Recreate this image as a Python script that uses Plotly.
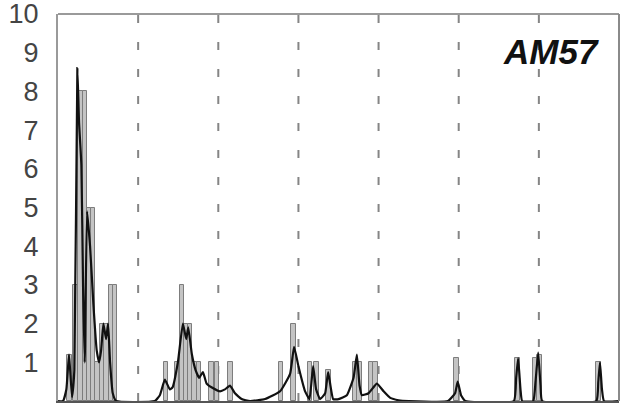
import plotly.graph_objects as go

# ---- data (x in hours, 7 days) ----
bar_x = [3.4, 5.2, 6.7, 8.0, 9.3, 10.5, 11.8, 13.3, 14.5, 15.9, 17.0,
         32.4, 35.6, 37.2, 38.4, 39.6, 40.9, 42.2, 46.0, 47.7, 51.7,
         66.8, 70.5, 75.5, 77.4, 81.0, 88.9, 90.3, 93.7, 95.1,
         119.3, 137.6, 142.9, 144.2, 161.9]
bar_y = [1.2, 3, 8, 8, 5, 5, 1, 2, 2, 3, 3,
         1, 1, 3, 2, 2, 1, 1, 1, 1, 1,
         1, 2, 1, 1, 0.8, 1, 1, 1, 1,
         1.1, 1.1, 1.1, 1.2, 1.0]

line_x = [0, 1.5, 2.5, 3.3, 4.2, 4.9, 5.8, 6.3, 7.0, 7.5, 8.0, 8.7, 9.6, 10.6, 11.6,
          12.3, 12.9, 13.6, 14.4, 15.0, 15.6, 16.4, 17.4,
          29.0, 30.5, 32.0, 33.5, 34.3, 35.9, 37.4, 38.4, 39.0, 40.1, 41.2, 42.3, 43.4,
          44.5, 46.1, 48.5, 50.0, 51.5, 53.0, 55.0, 57.5,
          62.0, 66.5, 69.5, 70.7, 72.0, 74.0, 75.3, 76.4, 77.3, 78.5, 80.0, 80.9, 82.4,
          84.0, 86.5, 88.5, 89.5, 90.3, 91.0, 93.0, 95.5, 97.5, 99.5, 102.0, 105.0,
          116.8, 118.9, 119.7, 120.7, 122.0,
          136.5, 137.2, 137.8, 138.5, 139.0,
          142.3, 143.0, 143.8, 144.5, 145.0,
          161.2, 161.8, 162.3, 162.9, 163.5, 168.0]
line_y = [0, 0, 0.3, 1.2, 0.1, 0.8, 8.6, 7.2, 6.1, 3.0, 1.0, 4.9, 4.0, 2.5, 1.3,
          1.0, 1.3, 2.0, 1.6, 2.0, 1.0, 0.2, 0.0,
          0, 0.15, 0.55, 0.3, 0.35, 1.0, 2.0, 1.6, 1.9, 1.2, 0.8, 0.6, 0.75,
          0.45, 0.35, 0.25, 0.3, 0.4, 0.2, 0.05, 0,
          0.05, 0.25, 0.7, 1.4, 0.9, 0.25, 0.05, 0.9, 0.3, 0.05, 0.2, 0.75, 0.05,
          0.05, 0.15, 0.6, 1.2, 0.4, 0.15, 0.2, 0.45, 0.25, 0.08, 0.02, 0,
          0, 0.2, 0.5, 0.15, 0,
          0, 0.6, 1.1, 0.3, 0,
          0, 0.5, 1.25, 0.4, 0,
          0, 0.5, 1.0, 0.3, 0, 0]

y_ticks = [1, 2, 3, 4, 5, 6, 7, 8, 9, 10]
day_marks = [24, 48, 72, 96, 120, 144]
label = "AM57"

fig = go.Figure()
fig.add_trace(go.Bar(x=bar_x, y=bar_y, width=1.3,
                     marker=dict(color="#c4c4c4", line=dict(color="#7d7d7d", width=1)),
                     showlegend=False))
fig.add_trace(go.Scatter(x=line_x, y=line_y, mode="lines",
                         line=dict(color="#111111", width=2.2, shape="spline", smoothing=0.4),
                         showlegend=False))

shapes = []
for d in day_marks:
    shapes.append(dict(type="line", xref="x", yref="y", x0=d, x1=d, y0=0, y1=10,
                       line=dict(color="#858585", width=2, dash="8px,19px"), layer="below"))
# frame: top and right
shapes.append(dict(type="line", xref="paper", yref="paper", x0=0, x1=1, y0=1, y1=1,
                   line=dict(color="#9a9a9a", width=2)))
shapes.append(dict(type="line", xref="paper", yref="paper", x0=1, x1=1, y0=0, y1=1,
                   line=dict(color="#8a8a8a", width=2)))

fig.update_layout(
    width=629, height=411,
    margin=dict(l=58, r=10, t=14, b=10, autoexpand=False),
    paper_bgcolor="white", plot_bgcolor="white",
    bargap=0,
    shapes=shapes,
    xaxis=dict(range=[0, 168], showticklabels=False, showgrid=False, zeroline=False,
               ticks="", showline=True, linecolor="#555555", linewidth=2, automargin=False),
    yaxis=dict(range=[0, 10], tickvals=y_ticks, ticktext=[str(v) for v in y_ticks],
               showgrid=False, zeroline=False, showline=True, linecolor="#9a9a9a",
               linewidth=2, ticks="", ticklabelstandoff=12, ticklabeloverflow="allow",
               automargin=False,
               tickfont=dict(family="Liberation Sans, Arial", size=27, color="#444444")),
    annotations=[dict(xref="paper", yref="paper", x=0.968, y=0.902,
                      xanchor="right", yanchor="middle", showarrow=False,
                      text="<b><i>" + label + "</i></b>",
                      font=dict(family="Liberation Sans, Arial", size=35, color="#111111"))],
)

fig.write_html("out.html", config={"displayModeBar": False},
               post_script="document.body.style.margin='0';document.body.style.overflow='hidden';")
